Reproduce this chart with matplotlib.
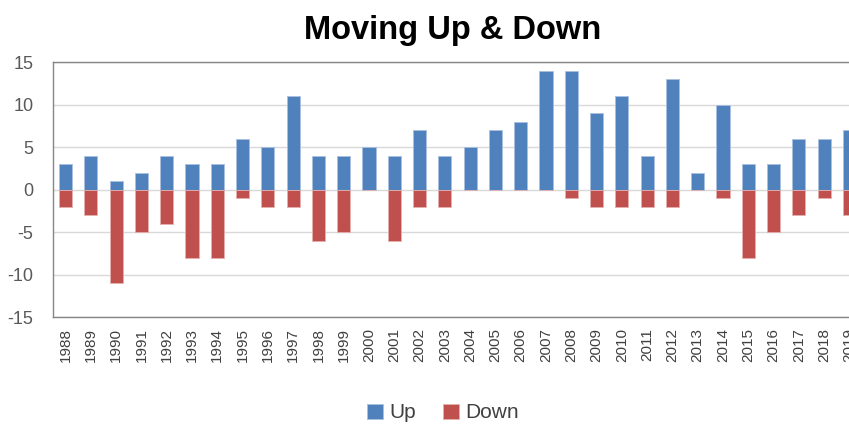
import matplotlib
matplotlib.use("Agg")
import matplotlib.pyplot as plt
import numpy as np

years = [str(y) for y in range(1988, 2020)]
up = [3, 4, 1, 2, 4, 3, 3, 6, 5, 11, 4, 4, 5, 4, 7, 4, 5, 7, 8, 14, 14, 9, 11, 4, 13, 2, 10, 3, 3, 6, 6, 7]
down = [-2, -3, -11, -5, -4, -8, -8, -1, -2, -2, -6, -5, 0, -6, -2, -2, 0, 0, 0, 0, -1, -2, -2, -2, -2, 0, -1, -8, -5, -3, -1, -3]

plt.rcParams['font.family'] = ['Liberation Sans', 'DejaVu Sans']
plt.rcParams['axes.unicode_minus'] = False

W, H = 849, 426
fig = plt.figure(figsize=(W / 100, H / 100), dpi=100)
left, right, top, bottom = 53, 862, 62, 317
ax = fig.add_axes([left / W, (H - bottom) / H, (right - left) / W, (bottom - top) / H])

x = np.arange(len(years))
blue = '#4F81BD'
red = '#C0504D'
ax.bar(x, up, width=0.52, color=blue, edgecolor='#a9c0e0', linewidth=0.6, label='Up', zorder=3)
ax.bar(x, down, width=0.52, color=red, edgecolor='#e6b0ae', linewidth=0.6, label='Down', zorder=3)

ax.set_xlim(-0.5, len(years) - 0.5)
ax.set_ylim(-15, 15)
ax.set_yticks([-15, -10, -5, 0, 5, 10, 15])
ax.set_xticks(x)
ax.set_xticklabels(years, rotation=90, fontsize=11, color='#404040')
ax.tick_params(axis='y', labelsize=13, colors='#595959', length=0, pad=14)
ax.tick_params(axis='x', length=0, pad=8)
ax.grid(axis='y', color='#d9d9d9', linewidth=1, zorder=0)
for s in ['left', 'bottom', 'top']:
    ax.spines[s].set_color('#868686')
    ax.spines[s].set_linewidth(1)
ax.spines['right'].set_visible(False)

fig.text(453 / W, 1 - 31 / H, 'Moving Up & Down', ha='center', va='center',
         fontsize=23.5, fontweight='bold', color='black')

fig.legend(loc='center', bbox_to_anchor=(443 / W, 1 - 413 / H), ncol=2, frameon=False,
           fontsize=15, handlelength=0.75, handleheight=0.75, handletextpad=0.3,
           columnspacing=1.3, labelcolor='#404040')

fig.savefig('out.png', dpi=100)
